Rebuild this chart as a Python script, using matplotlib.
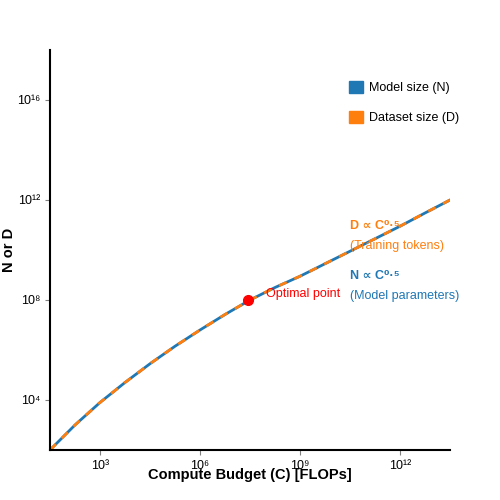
import numpy as np
import matplotlib
matplotlib.use("Agg")
import matplotlib.pyplot as plt
from matplotlib.patches import Patch

plt.rcParams['font.family'] = ['Liberation Sans', 'DejaVu Sans']

# curve (log10 values)
log_c = [1.5, 2.25, 3, 3.75, 4.5, 5.25, 6, 6.75, 7.5, 8.25, 9, 9.75,
         10.5, 11.25, 12, 12.75, 13.5]
log_nd = [2, 3.0, 3.9, 4.7, 5.45, 6.15, 6.8, 7.42, 8, 8.5, 8.95, 9.45,
          9.95, 10.45, 10.95, 11.48, 12]
opt_c, opt_nd = 10**7.45, 10**8
x_ticks = [1e3, 1e6, 1e9, 1e12]
x_labels = ["10³", "10⁶", "10⁹", "10¹²"]
y_ticks = [1e4, 1e8, 1e12, 1e16]
y_labels = ["10⁴", "10⁸", "10¹²", "10¹⁶"]

C = 10 ** np.array(log_c)
ND = 10 ** np.array(log_nd)

fig = plt.figure(figsize=(5, 5), dpi=100)
ax = fig.add_axes([0.1, 0.1, 0.8, 0.8])
ax.plot(C, ND, color="#1f77b4", lw=2)
ax.plot(C, ND, color="#ff7f0e", lw=2, ls=(0, (3, 3)))
ax.plot(opt_c, opt_nd, "o", color="red", ms=7, zorder=5)
ax.text(opt_c * 3.5, opt_nd * 1.3, "Optimal point", color="red", fontsize=9)

ax.set_xscale("log")
ax.set_yscale("log")
ax.set_xlim(10**1.5, 10**13.5)
ax.set_ylim(1e2, 1e18)
ax.set_xticks(x_ticks, x_labels)
ax.set_yticks(y_ticks, y_labels)
ax.minorticks_off()
ax.tick_params(labelsize=9, color="gray")
for s in ["top", "right"]:
    ax.spines[s].set_visible(False)
for s in ["left", "bottom"]:
    ax.spines[s].set_linewidth(1.5)

ax.set_xlabel("Compute Budget (C) [FLOPs]", fontweight="bold", fontsize=10.5, labelpad=-3)
ax.set_ylabel("N or D", fontweight="bold", fontsize=10.5, labelpad=0)
ax.yaxis.set_label_coords(-0.085, 0.5)

ax.text(0.75, 0.56, "D ∝ C⁰·⁵", transform=ax.transAxes, color="#ff7f0e",
        fontweight="bold", fontsize=9, va="center")
ax.text(0.75, 0.51, "(Training tokens)", transform=ax.transAxes, color="#ff7f0e",
        fontsize=9, va="center")
ax.text(0.75, 0.435, "N ∝ C⁰·⁵", transform=ax.transAxes, color="#1f77b4",
        fontweight="bold", fontsize=9, va="center")
ax.text(0.75, 0.385, "(Model parameters)", transform=ax.transAxes, color="#1f77b4",
        fontsize=9, va="center")

handles = [Patch(color="#1f77b4", label="Model size (N)"),
           Patch(color="#ff7f0e", label="Dataset size (D)")]
ax.legend(handles=handles, loc="upper left", bbox_to_anchor=(0.72, 0.95),
          frameon=False, fontsize=9, handlelength=1.1, handleheight=1.1,
          labelspacing=1.3, handletextpad=0.5)

fig.savefig("out.png", dpi=100)
